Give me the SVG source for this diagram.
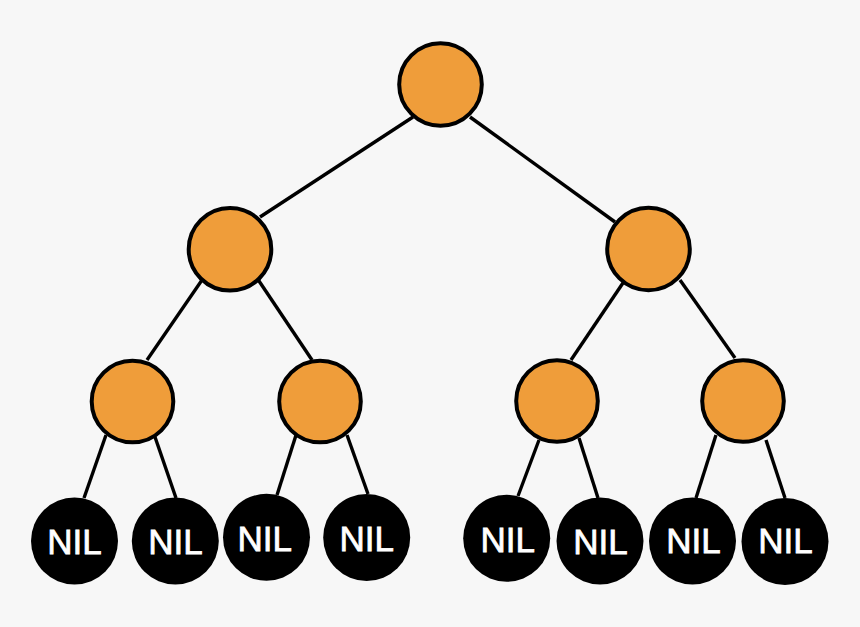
<svg xmlns="http://www.w3.org/2000/svg" width="860" height="627" viewBox="0 0 860 627">
<style>
.bg{fill:#f7f7f7}
.edge{stroke:#000;stroke-width:3.4;fill:none}
.node{fill:#ef9d3a;stroke:#000;stroke-width:4}
.nil{fill:#000}
.lbl{fill:#fff;stroke:#fff;stroke-width:0.8;font-family:"Liberation Sans",Arial,sans-serif;font-size:35px;text-anchor:middle}
</style>
<rect class="bg" x="0" y="0" width="860" height="627"/>
<g id="connectors">
<line class="edge" x1="413" y1="117" x2="260" y2="217"/>
<line class="edge" x1="470" y1="117" x2="615" y2="222"/>
<line class="edge" x1="202" y1="280" x2="147" y2="360"/>
<line class="edge" x1="257" y1="278" x2="312" y2="360"/>
<line class="edge" x1="627" y1="277" x2="571" y2="360"/>
<line class="edge" x1="680" y1="280" x2="735" y2="358"/>
<line class="edge" x1="106" y1="435" x2="84" y2="498"/>
<line class="edge" x1="155" y1="437" x2="176" y2="498"/>
<line class="edge" x1="297" y1="432" x2="277" y2="495"/>
<line class="edge" x1="347" y1="435" x2="368" y2="494"/>
<line class="edge" x1="539" y1="440" x2="518" y2="496"/>
<line class="edge" x1="579" y1="438" x2="598" y2="498"/>
<line class="edge" x1="716" y1="435" x2="696" y2="498"/>
<line class="edge" x1="766" y1="440" x2="785" y2="498"/>
</g>
<g id="root"><circle class="node" cx="440.5" cy="84.5" r="41.3"/></g>
<g id="n-l"><circle class="node" cx="230" cy="249.3" r="41.3"/></g>
<g id="n-r"><circle class="node" cx="648.5" cy="249" r="41.3"/></g>
<g id="n-ll"><circle class="node" cx="132.5" cy="401.5" r="40.8"/></g>
<g id="n-lr"><circle class="node" cx="320" cy="401.5" r="40.8"/></g>
<g id="n-rl"><circle class="node" cx="557" cy="401" r="40.8"/></g>
<g id="n-rr"><circle class="node" cx="743" cy="401" r="40.8"/></g>
<g id="nil1"><circle class="nil" cx="74.5" cy="541" r="43.5"/><text class="lbl" x="74.5" y="554.3">NIL</text></g>
<g id="nil2"><circle class="nil" cx="175.3" cy="541" r="43.5"/><text class="lbl" x="175.5" y="554.3">NIL</text></g>
<g id="nil3"><circle class="nil" cx="266.5" cy="537.3" r="43.5"/><text class="lbl" x="264.7" y="550.7">NIL</text></g>
<g id="nil4"><circle class="nil" cx="366.7" cy="537.5" r="43.5"/><text class="lbl" x="366.8" y="550.7">NIL</text></g>
<g id="nil5"><circle class="nil" cx="506.7" cy="538.3" r="43.5"/><text class="lbl" x="507.8" y="551.7">NIL</text></g>
<g id="nil6"><circle class="nil" cx="600" cy="541" r="43.5"/><text class="lbl" x="600.5" y="554.3">NIL</text></g>
<g id="nil7"><circle class="nil" cx="692.5" cy="541" r="43.5"/><text class="lbl" x="693.5" y="553.3">NIL</text></g>
<g id="nil8"><circle class="nil" cx="785" cy="541.5" r="43.5"/><text class="lbl" x="785.5" y="553.3">NIL</text></g>
</svg>
